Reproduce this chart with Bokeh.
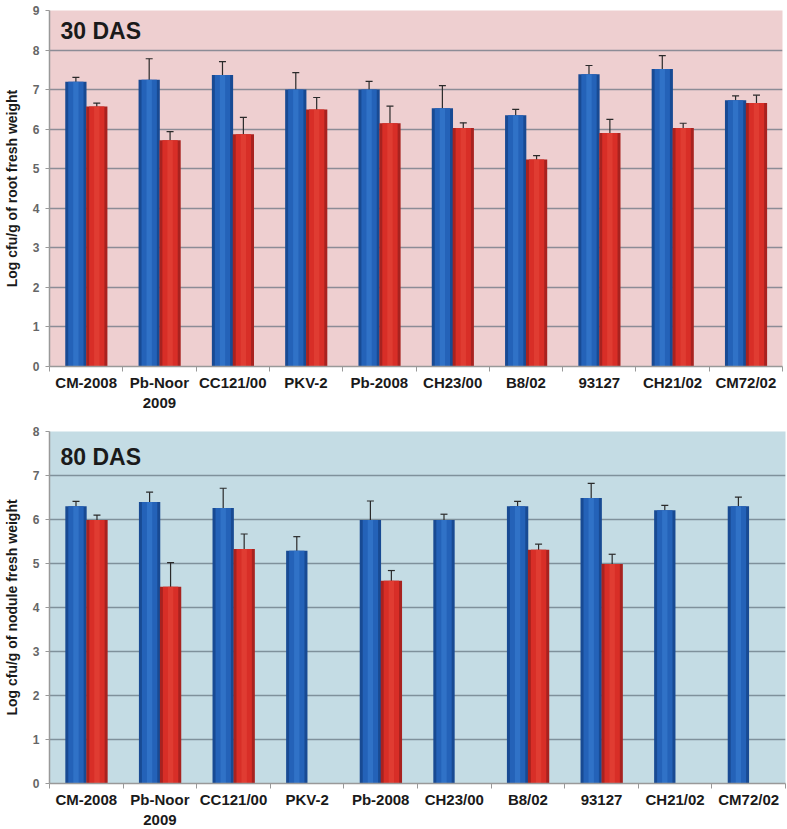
import pandas as pd
from bokeh.plotting import figure
from bokeh.layouts import column
from bokeh.models import (ColumnDataSource, Range1d, FixedTicker, Whisker, TeeHead, Label)
from bokeh.embed import file_html
from bokeh.resources import INLINE

# ---------------- data ----------------
categories = ["CM-2008", "Pb-Noor\n2009", "CC121/00", "PKV-2", "Pb-2008",
              "CH23/00", "B8/02", "93127", "CH21/02", "CM72/02"]

das30_blue = [7.20, 7.25, 7.37, 7.00, 7.00, 6.53, 6.35, 7.39, 7.52, 6.73]
das30_blue_err = [0.11, 0.53, 0.34, 0.43, 0.21, 0.57, 0.15, 0.22, 0.34, 0.11]
das30_red = [6.57, 5.72, 5.87, 6.50, 6.15, 6.03, 5.23, 5.90, 6.03, 6.66]
das30_red_err = [0.09, 0.22, 0.43, 0.30, 0.43, 0.13, 0.10, 0.35, 0.12, 0.20]

das80_blue = [6.30, 6.40, 6.26, 5.29, 5.99, 5.99, 6.30, 6.49, 6.21, 6.30]
das80_blue_err = [0.11, 0.22, 0.45, 0.32, 0.43, 0.13, 0.11, 0.33, 0.11, 0.21]
das80_red = [5.99, 4.47, 5.33, None, 4.61, None, 5.31, 4.99, None, None]
das80_red_err = [0.11, 0.55, 0.34, None, 0.23, None, 0.13, 0.22, None, None]

BLUE_DARK, BLUE, BLUE_LIGHT = "#184a93", "#2462b8", "#3b7fd3"
RED_DARK, RED, RED_LIGHT = "#a8221f", "#d82e27", "#e8483c"
FONT = "Liberation Sans"

BAR_W = 0.29
OFF_BLUE = -0.14
OFF_RED = 0.145


def series_source(vals, errs, offset):
    df = pd.DataFrame({"val": vals, "err": errs})
    df["pos"] = df.index + 0.5 + offset
    df = df.dropna()
    df["upper"] = df["val"] + df["err"]
    df["lower"] = df["val"] - df["err"]
    return ColumnDataSource(df)


def draw_bars(p, src, dark, mid, light):
    p.vbar(x="pos", top="val", bottom=0, width=BAR_W, source=src,
           fill_color=dark, line_color=None)
    p.vbar(x="pos", top="val", bottom=0, width=BAR_W * 0.72, source=src,
           fill_color=mid, line_color=None)
    p.vbar(x="pos", top="val", bottom=0, width=BAR_W * 0.25, source=src,
           fill_color=light, line_color=None, fill_alpha=0.55)
    w = Whisker(source=src, base="pos", upper="upper", lower="lower",
                line_color="#2a2a2a", line_width=1.2,
                upper_head=TeeHead(size=7, line_color="#2a2a2a", line_width=1.2),
                lower_head=TeeHead(size=7, line_color="#2a2a2a", line_width=1.2))
    p.add_layout(w)


def make_panel(title, ylabel, ymax, bg, grid, blue, blue_err, red, red_err,
               min_left, frame_w, frame_h, top_border, title_y):
    p = figure(frame_width=frame_w, frame_height=frame_h,
               x_range=Range1d(0, len(categories)), y_range=Range1d(0, ymax),
               output_backend="svg", toolbar_location=None,
               min_border_left=min_left, min_border_right=2,
               min_border_top=top_border, min_border_bottom=0)
    p.background_fill_color = bg
    p.border_fill_color = "white"
    p.outline_line_color = None

    p.xgrid.grid_line_color = None
    p.ygrid.grid_line_color = grid
    p.ygrid.grid_line_width = 1.4
    p.yaxis.ticker = FixedTicker(ticks=list(range(0, ymax + 1)))

    centers = [i + 0.5 for i in range(len(categories))]
    p.xaxis.ticker = FixedTicker(ticks=centers,
                                 minor_ticks=list(range(0, len(categories) + 1)))
    p.xaxis.major_label_overrides = {c: lab for c, lab in zip(centers, categories)}
    p.xaxis.major_tick_out = 0
    p.xaxis.major_tick_in = 0
    p.xaxis.minor_tick_out = 5
    p.xaxis.minor_tick_in = 0
    p.xaxis.minor_tick_line_color = "#999999"
    p.xaxis.axis_line_color = "#999999"
    p.xaxis.axis_line_width = 1.5
    p.xaxis.major_label_text_font = FONT
    p.xaxis.major_label_text_font_style = "bold"
    p.xaxis.major_label_text_font_size = "15px"
    p.xaxis.major_label_text_color = "#1a1a1a"
    p.xaxis.major_label_standoff = 2

    p.yaxis.axis_line_color = "#999999"
    p.yaxis.axis_line_width = 1.5
    p.yaxis.major_tick_out = 4
    p.yaxis.major_tick_in = 0
    p.yaxis.major_tick_line_color = "#999999"
    p.yaxis.minor_tick_line_color = None
    p.yaxis.major_label_text_font = FONT
    p.yaxis.major_label_text_font_style = "bold"
    p.yaxis.major_label_text_font_size = "12px"
    p.yaxis.major_label_text_color = "#666666"
    p.yaxis.major_label_standoff = 6
    p.yaxis.axis_label = ylabel
    p.yaxis.axis_label_text_font = FONT
    p.yaxis.axis_label_text_font_style = "bold"
    p.yaxis.axis_label_text_font_size = "14px"
    p.yaxis.axis_label_text_color = "#1a1a1a"
    p.yaxis.axis_label_standoff = 10

    bsrc = series_source(blue, blue_err, OFF_BLUE)
    rsrc = series_source(red, red_err, OFF_RED)
    draw_bars(p, bsrc, BLUE_DARK, BLUE, BLUE_LIGHT)
    draw_bars(p, rsrc, RED_DARK, RED, RED_LIGHT)

    p.add_layout(Label(x=0.15, y=title_y, text=title, text_font=FONT,
                       text_font_style="bold", text_font_size="23px",
                       text_color="#1a1a1a", text_baseline="alphabetic"))
    return p


p1 = make_panel("30 DAS", "Log cfu/g of root fresh weight", 9, "#eecfd0", "#8c8c96",
                das30_blue, das30_blue_err, das30_red, das30_red_err,
                min_left=44, frame_w=733, frame_h=356, top_border=10, title_y=8.47)
p2 = make_panel("80 DAS", "Log cfu/g of nodule fresh weight", 8, "#c4dce4", "#7f919b",
                das80_blue, das80_blue_err, das80_red, das80_red_err,
                min_left=41, frame_w=736, frame_h=352, top_border=18, title_y=7.41)

layout = column(p1, p2, spacing=0)
open("out.html", "w").write(file_html(layout, INLINE))
